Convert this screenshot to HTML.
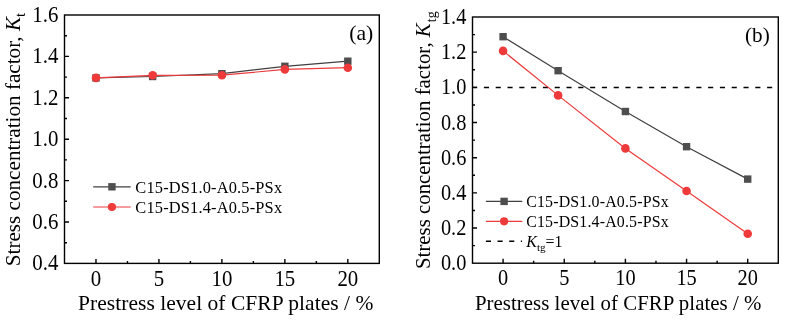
<!DOCTYPE html>
<html><head><meta charset="utf-8"><style>
html,body{margin:0;padding:0;background:#fff;width:791px;height:321px;overflow:hidden}
svg{display:block;will-change:transform}
</style></head><body>
<svg width="791" height="321" viewBox="0 0 791 321">
<rect x="64.5" y="15.0" width="314.80" height="248.40" fill="none" stroke="#000" stroke-width="1.4"/>
<path d="M95.98 263.40v-4.5M127.46 263.40v-2.5M158.94 263.40v-4.5M190.42 263.40v-2.5M221.90 263.40v-4.5M253.38 263.40v-2.5M284.86 263.40v-4.5M316.34 263.40v-2.5M347.82 263.40v-4.5M64.50 242.70h2.5M64.50 222.00h4.5M64.50 201.30h2.5M64.50 180.60h4.5M64.50 159.90h2.5M64.50 139.20h4.5M64.50 118.50h2.5M64.50 97.80h4.5M64.50 77.10h2.5M64.50 56.40h4.5M64.50 35.70h2.5" stroke="#000" stroke-width="1.4" fill="none"/>
<rect x="472.5" y="17.0" width="305.80" height="246.20" fill="none" stroke="#000" stroke-width="1.4"/>
<path d="M503.08 263.20v-4.5M533.66 263.20v-2.5M564.24 263.20v-4.5M594.82 263.20v-2.5M625.40 263.20v-4.5M655.98 263.20v-2.5M686.56 263.20v-4.5M717.14 263.20v-2.5M747.72 263.20v-4.5M472.50 245.61h2.5M472.50 228.03h4.5M472.50 210.44h2.5M472.50 192.86h4.5M472.50 175.27h2.5M472.50 157.69h4.5M472.50 140.10h2.5M472.50 122.51h4.5M472.50 104.93h2.5M472.50 87.34h4.5M472.50 69.76h2.5M472.50 52.17h4.5M472.50 34.59h2.5" stroke="#000" stroke-width="1.4" fill="none"/>
<line x1="472.1" y1="87.45" x2="778.3" y2="87.45" stroke="#000" stroke-width="1.45" stroke-dasharray="5.1 6.7"/>
<path d="M95.98 77.90 L152.64 76.50 L221.90 73.70 L284.86 66.30 L347.82 61.20" stroke="#404040" stroke-width="1.2" fill="none"/>
<rect x="92.28" y="74.20" width="7.4" height="7.4" fill="#4e4e4e"/>
<rect x="148.94" y="72.80" width="7.4" height="7.4" fill="#4e4e4e"/>
<rect x="218.20" y="70.00" width="7.4" height="7.4" fill="#4e4e4e"/>
<rect x="281.16" y="62.60" width="7.4" height="7.4" fill="#4e4e4e"/>
<rect x="344.12" y="57.50" width="7.4" height="7.4" fill="#4e4e4e"/>
<path d="M95.98 77.90 L152.64 75.30 L221.90 75.20 L284.86 69.40 L347.82 67.70" stroke="#ee3a3a" stroke-width="1.2" fill="none"/>
<circle cx="95.98" cy="77.90" r="4.3" fill="#ee3a3a"/>
<circle cx="152.64" cy="75.30" r="4.3" fill="#ee3a3a"/>
<circle cx="221.90" cy="75.20" r="4.3" fill="#ee3a3a"/>
<circle cx="284.86" cy="69.40" r="4.3" fill="#ee3a3a"/>
<circle cx="347.82" cy="67.70" r="4.3" fill="#ee3a3a"/>
<path d="M503.08 36.70 L558.12 70.70 L625.40 111.50 L686.56 146.70 L747.72 179.10" stroke="#404040" stroke-width="1.2" fill="none"/>
<rect x="499.38" y="33.00" width="7.4" height="7.4" fill="#4e4e4e"/>
<rect x="554.42" y="67.00" width="7.4" height="7.4" fill="#4e4e4e"/>
<rect x="621.70" y="107.80" width="7.4" height="7.4" fill="#4e4e4e"/>
<rect x="682.86" y="143.00" width="7.4" height="7.4" fill="#4e4e4e"/>
<rect x="744.02" y="175.40" width="7.4" height="7.4" fill="#4e4e4e"/>
<path d="M503.08 50.90 L558.12 95.40 L625.40 148.40 L686.56 191.00 L747.72 233.70" stroke="#ee3a3a" stroke-width="1.2" fill="none"/>
<circle cx="503.08" cy="50.90" r="4.3" fill="#ee3a3a"/>
<circle cx="558.12" cy="95.40" r="4.3" fill="#ee3a3a"/>
<circle cx="625.40" cy="148.40" r="4.3" fill="#ee3a3a"/>
<circle cx="686.56" cy="191.00" r="4.3" fill="#ee3a3a"/>
<circle cx="747.72" cy="233.70" r="4.3" fill="#ee3a3a"/>
<g font-family="Liberation Serif" fill="#000">
<text transform="translate(58.40 270.30) scale(0.97 1.06)" font-size="21.5" text-anchor="end">0.4</text>
<text transform="translate(58.40 228.90) scale(0.97 1.06)" font-size="21.5" text-anchor="end">0.6</text>
<text transform="translate(58.40 187.50) scale(0.97 1.06)" font-size="21.5" text-anchor="end">0.8</text>
<text transform="translate(58.40 146.10) scale(0.97 1.06)" font-size="21.5" text-anchor="end">1.0</text>
<text transform="translate(58.40 104.70) scale(0.97 1.06)" font-size="21.5" text-anchor="end">1.2</text>
<text transform="translate(58.40 63.30) scale(0.97 1.06)" font-size="21.5" text-anchor="end">1.4</text>
<text transform="translate(58.40 21.90) scale(0.97 1.06)" font-size="21.5" text-anchor="end">1.6</text>
<text transform="translate(466.40 270.30) scale(0.97 1.06)" font-size="21.0" text-anchor="end">0.0</text>
<text transform="translate(466.40 235.13) scale(0.97 1.06)" font-size="21.0" text-anchor="end">0.2</text>
<text transform="translate(466.40 199.96) scale(0.97 1.06)" font-size="21.0" text-anchor="end">0.4</text>
<text transform="translate(466.40 164.79) scale(0.97 1.06)" font-size="21.0" text-anchor="end">0.6</text>
<text transform="translate(466.40 129.61) scale(0.97 1.06)" font-size="21.0" text-anchor="end">0.8</text>
<text transform="translate(466.40 94.44) scale(0.97 1.06)" font-size="21.0" text-anchor="end">1.0</text>
<text transform="translate(466.40 59.27) scale(0.97 1.06)" font-size="21.0" text-anchor="end">1.2</text>
<text transform="translate(466.40 24.10) scale(0.97 1.06)" font-size="21.0" text-anchor="end">1.4</text>
<text transform="translate(95.98 285.5) scale(0.97 1.06)" font-size="21.5" text-anchor="middle">0</text>
<text transform="translate(158.94 285.5) scale(0.97 1.06)" font-size="21.5" text-anchor="middle">5</text>
<text transform="translate(221.90 285.5) scale(0.97 1.06)" font-size="21.5" text-anchor="middle">10</text>
<text transform="translate(284.86 285.5) scale(0.97 1.06)" font-size="21.5" text-anchor="middle">15</text>
<text transform="translate(347.82 285.5) scale(0.97 1.06)" font-size="21.5" text-anchor="middle">20</text>
<text transform="translate(503.08 284.75) scale(0.97 1.06)" font-size="21.0" text-anchor="middle">0</text>
<text transform="translate(564.24 284.75) scale(0.97 1.06)" font-size="21.0" text-anchor="middle">5</text>
<text transform="translate(625.40 284.75) scale(0.97 1.06)" font-size="21.0" text-anchor="middle">10</text>
<text transform="translate(686.56 284.75) scale(0.97 1.06)" font-size="21.0" text-anchor="middle">15</text>
<text transform="translate(747.72 284.75) scale(0.97 1.06)" font-size="21.0" text-anchor="middle">20</text>
<text x="78" y="310" font-size="21.5" textLength="295.4" lengthAdjust="spacing">Prestress level of CFRP plates / %</text>
<text x="474.9" y="310.2" font-size="20.85" textLength="286.5" lengthAdjust="spacing">Prestress level of CFRP plates / %</text>
<text x="349.2" y="40" font-size="21.7">(a)</text>
<text x="745" y="42" font-size="21.2">(b)</text>
<text transform="translate(20 266.2) rotate(-90)" font-size="21.15">Stress concentration factor, <tspan font-style="italic">K</tspan><tspan font-size="14.8" dy="5.4">t</tspan></text>
<text transform="translate(429.6 269.0) rotate(-90)" font-size="20.85">Stress concentration factor, <tspan font-style="italic">K</tspan><tspan font-size="14" dx="1" dy="6.2">tg</tspan></text>
</g>
<line x1="93.2" y1="186.8" x2="130.7" y2="186.8" stroke="#404040" stroke-width="1.2"/>
<rect x="108.25" y="183.10" width="7.4" height="7.4" fill="#4e4e4e"/>
<text x="135.3" y="193.0" font-family="Liberation Serif" font-size="16.4" textLength="146.8" lengthAdjust="spacing">C15-DS1.0-A0.5-PSx</text>
<line x1="93.2" y1="207.0" x2="130.7" y2="207.0" stroke="#ee3a3a" stroke-width="1.2"/>
<circle cx="111.95" cy="207.00" r="4.1" fill="#ee3a3a"/>
<text x="135.3" y="213.0" font-family="Liberation Serif" font-size="16.4" textLength="146.8" lengthAdjust="spacing">C15-DS1.4-A0.5-PSx</text>
<line x1="485.9" y1="201.4" x2="522.3" y2="201.4" stroke="#404040" stroke-width="1.2"/>
<rect x="500.40" y="197.70" width="7.4" height="7.4" fill="#4e4e4e"/>
<text x="526.2" y="206.6" font-family="Liberation Serif" font-size="15.9" textLength="142.4" lengthAdjust="spacing">C15-DS1.0-A0.5-PSx</text>
<line x1="485.9" y1="221.35" x2="522.3" y2="221.35" stroke="#ee3a3a" stroke-width="1.2"/>
<circle cx="504.10" cy="221.35" r="4.1" fill="#ee3a3a"/>
<text x="526.2" y="226.5" font-family="Liberation Serif" font-size="15.9" textLength="142.4" lengthAdjust="spacing">C15-DS1.4-A0.5-PSx</text>
<line x1="485.9" y1="241.3" x2="522.0" y2="241.3" stroke="#000" stroke-width="1.4" stroke-dasharray="5.1 6.55"/>
<text x="526.3" y="246.6" font-family="Liberation Serif" font-size="15.9"><tspan font-style="italic">K</tspan><tspan font-size="11" dy="4.5">tg</tspan><tspan dy="-4.5">=1</tspan></text>
</svg>
</body></html>
